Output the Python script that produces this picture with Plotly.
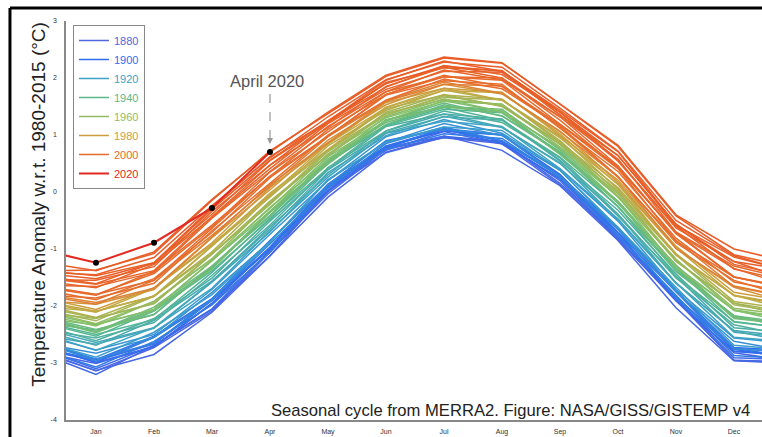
import plotly.graph_objects as go
from plotly.colors import sample_colorscale

# ---------------- data ----------------
month_labels = ["Jan", "Feb", "Mar", "Apr", "May", "Jun", "Jul", "Aug", "Sep", "Oct", "Nov", "Dec"]
month_ticks = [1, 2, 3, 4, 5, 6, 7, 8, 9, 10, 11, 12]
# 0 = previous December, 1..12 = Jan..Dec, 13 = following January
months = [0, 1, 2, 3, 4, 5, 6, 7, 8, 9, 10, 11, 12, 13]

y1880 = [-2.77, -3.14, -2.73, -2.09, -1.05, -0.03, 0.75, 0.95, 0.85, 0.12, -0.81, -1.90, -2.95, -2.98]
y1882 = [-2.80, -3.01, -2.72, -1.96, -1.06, 0.07, 0.73, 1.06, 0.84, 0.24, -0.82, -1.91, -2.82, -2.97]
y1885 = [-2.80, -3.13, -2.85, -2.11, -1.12, -0.09, 0.70, 0.98, 0.73, 0.11, -0.85, -2.03, -2.96, -3.01]
y1887 = [-2.81, -3.20, -2.69, -2.06, -1.12, 0.03, 0.69, 0.96, 0.88, 0.20, -0.84, -1.88, -2.95, -3.00]
y1890 = [-2.74, -3.10, -2.69, -2.05, -1.02, 0.00, 0.78, 0.98, 0.88, 0.15, -0.77, -1.87, -2.91, -2.94]
y1892 = [-2.75, -2.96, -2.67, -1.90, -1.00, 0.11, 0.77, 1.10, 0.89, 0.28, -0.77, -1.86, -2.76, -2.92]
y1895 = [-2.68, -2.99, -2.71, -1.95, -0.97, 0.03, 0.81, 1.10, 0.85, 0.23, -0.71, -1.90, -2.80, -2.87]
y1897 = [-2.68, -2.99, -2.55, -1.90, -0.97, 0.14, 0.80, 1.07, 1.00, 0.31, -0.71, -1.75, -2.79, -2.86]
y1900 = [-2.60, -2.94, -2.53, -1.87, -0.85, 0.13, 0.90, 1.11, 1.01, 0.28, -0.62, -1.73, -2.73, -2.78]
y1902 = [-2.73, -2.94, -2.65, -1.88, -0.98, 0.13, 0.79, 1.11, 0.90, 0.29, -0.75, -1.84, -2.74, -2.90]
y1905 = [-2.75, -3.07, -2.62, -1.98, -1.05, 0.09, 0.75, 1.02, 0.94, 0.26, -0.77, -1.81, -2.87, -2.93]
y1907 = [-2.63, -2.93, -2.66, -1.89, -0.91, 0.07, 0.85, 1.14, 0.90, 0.27, -0.66, -1.86, -2.74, -2.82]
y1910 = [-2.62, -2.96, -2.55, -1.89, -0.86, 0.12, 0.89, 1.10, 1.00, 0.27, -0.64, -1.74, -2.75, -2.80]
y1912 = [-2.64, -2.83, -2.55, -1.76, -0.87, 0.21, 0.87, 1.20, 0.99, 0.38, -0.65, -1.75, -2.62, -2.80]
y1915 = [-2.49, -2.77, -2.50, -1.71, -0.74, 0.20, 0.97, 1.27, 1.03, 0.40, -0.51, -1.71, -2.56, -2.66]
y1917 = [-2.61, -2.90, -2.46, -1.80, -0.88, 0.22, 0.87, 1.14, 1.08, 0.38, -0.62, -1.67, -2.69, -2.77]
y1920 = [-2.46, -2.78, -2.38, -1.69, -0.68, 0.26, 1.03, 1.24, 1.15, 0.41, -0.47, -1.59, -2.55, -2.63]
y1922 = [-2.50, -2.67, -2.39, -1.58, -0.70, 0.34, 0.99, 1.33, 1.13, 0.51, -0.49, -1.60, -2.44, -2.64]
y1925 = [-2.38, -2.64, -2.38, -1.57, -0.61, 0.30, 1.07, 1.37, 1.14, 0.50, -0.39, -1.60, -2.43, -2.54]
y1927 = [-2.42, -2.69, -2.25, -1.56, -0.65, 0.39, 1.04, 1.32, 1.26, 0.56, -0.42, -1.48, -2.46, -2.56]
y1930 = [-2.32, -2.61, -2.22, -1.51, -0.51, 0.39, 1.15, 1.37, 1.28, 0.54, -0.32, -1.44, -2.38, -2.47]
y1932 = [-2.41, -2.56, -2.29, -1.46, -0.58, 0.43, 1.07, 1.42, 1.22, 0.60, -0.39, -1.51, -2.33, -2.54]
y1935 = [-2.26, -2.50, -2.24, -1.41, -0.46, 0.42, 1.18, 1.48, 1.26, 0.61, -0.25, -1.48, -2.27, -2.40]
y1937 = [-2.28, -2.53, -2.09, -1.38, -0.48, 0.52, 1.16, 1.45, 1.39, 0.69, -0.26, -1.34, -2.28, -2.40]
y1940 = [-2.18, -2.45, -2.06, -1.33, -0.34, 0.52, 1.27, 1.50, 1.42, 0.67, -0.16, -1.30, -2.20, -2.31]
y1942 = [-2.29, -2.42, -2.15, -1.30, -0.43, 0.55, 1.18, 1.53, 1.34, 0.71, -0.26, -1.38, -2.17, -2.40]
y1945 = [-2.18, -2.41, -2.15, -1.31, -0.36, 0.49, 1.25, 1.56, 1.33, 0.69, -0.17, -1.40, -2.17, -2.31]
y1947 = [-2.22, -2.45, -2.02, -1.30, -0.41, 0.58, 1.22, 1.50, 1.45, 0.74, -0.20, -1.28, -2.20, -2.33]
y1950 = [-2.20, -2.47, -2.08, -1.35, -0.35, 0.51, 1.26, 1.49, 1.40, 0.66, -0.18, -1.32, -2.22, -2.33]
y1952 = [-2.21, -2.33, -2.06, -1.20, -0.34, 0.62, 1.25, 1.60, 1.41, 0.78, -0.17, -1.30, -2.07, -2.31]
y1955 = [-2.10, -2.32, -2.06, -1.21, -0.27, 0.56, 1.32, 1.63, 1.41, 0.76, -0.08, -1.32, -2.07, -2.22]
y1957 = [-2.13, -2.35, -1.92, -1.18, -0.29, 0.67, 1.30, 1.59, 1.54, 0.83, -0.09, -1.18, -2.08, -2.23]
y1960 = [-2.06, -2.31, -1.92, -1.17, -0.18, 0.64, 1.38, 1.62, 1.54, 0.79, -0.03, -1.18, -2.04, -2.17]
y1962 = [-2.11, -2.22, -1.95, -1.08, -0.22, 0.71, 1.34, 1.69, 1.51, 0.87, -0.07, -1.21, -1.95, -2.20]
y1965 = [-2.01, -2.21, -1.96, -1.09, -0.16, 0.65, 1.40, 1.71, 1.50, 0.84, 0.02, -1.22, -1.95, -2.12]
y1967 = [-2.05, -2.26, -1.83, -1.08, -0.20, 0.74, 1.37, 1.66, 1.62, 0.90, -0.01, -1.10, -1.98, -2.14]
y1970 = [-1.97, -2.20, -1.82, -1.05, -0.07, 0.73, 1.46, 1.70, 1.63, 0.87, 0.08, -1.08, -1.92, -2.07]
y1972 = [-2.01, -2.09, -1.83, -0.94, -0.09, 0.81, 1.43, 1.79, 1.61, 0.97, 0.05, -1.10, -1.81, -2.08]
y1975 = [-1.90, -2.09, -1.83, -0.95, -0.02, 0.75, 1.49, 1.82, 1.61, 0.95, 0.14, -1.11, -1.81, -1.99]
y1977 = [-1.92, -2.11, -1.69, -0.92, -0.05, 0.85, 1.48, 1.78, 1.74, 1.02, 0.13, -0.98, -1.82, -2.00]
y1980 = [-1.84, -2.06, -1.68, -0.89, 0.08, 0.84, 1.57, 1.82, 1.75, 0.99, 0.21, -0.95, -1.76, -1.93]
y1982 = [-1.90, -1.97, -1.71, -0.80, 0.04, 0.91, 1.53, 1.89, 1.72, 1.07, 0.17, -0.99, -1.67, -1.96]
y1985 = [-1.78, -1.94, -1.69, -0.79, 0.13, 0.87, 1.60, 1.93, 1.73, 1.06, 0.27, -0.99, -1.65, -1.85]
y1987 = [-1.80, -1.97, -1.55, -0.76, 0.10, 0.97, 1.59, 1.89, 1.86, 1.13, 0.26, -0.85, -1.66, -1.86]
y1990 = [-1.70, -1.89, -1.52, -0.71, 0.25, 0.97, 1.70, 1.95, 1.89, 1.12, 0.36, -0.81, -1.58, -1.77]
y1992 = [-1.80, -1.86, -1.60, -0.68, 0.15, 1.00, 1.61, 1.98, 1.81, 1.16, 0.27, -0.89, -1.55, -1.85]
y1995 = [-1.65, -1.80, -1.55, -0.63, 0.28, 0.98, 1.71, 2.05, 1.85, 1.18, 0.41, -0.86, -1.49, -1.71]
y1997 = [-1.66, -1.81, -1.39, -0.58, 0.27, 1.10, 1.71, 2.02, 2.00, 1.26, 0.42, -0.71, -1.49, -1.70]
y2000 = [-1.63, -1.80, -1.43, -0.61, 0.35, 1.05, 1.76, 2.02, 1.96, 1.19, 0.45, -0.73, -1.49, -1.68]
y2002 = [-1.63, -1.66, -1.41, -0.46, 0.36, 1.15, 1.76, 2.14, 1.97, 1.32, 0.46, -0.72, -1.34, -1.66]
y2005 = [-1.50, -1.62, -1.38, -0.43, 0.47, 1.13, 1.85, 2.19, 2.00, 1.32, 0.58, -0.70, -1.30, -1.54]
y2007 = [-1.55, -1.68, -1.27, -0.44, 0.41, 1.20, 1.80, 2.12, 2.10, 1.36, 0.54, -0.60, -1.35, -1.58]
y2010 = [-1.46, -1.61, -1.24, -0.39, 0.55, 1.21, 1.92, 2.18, 2.13, 1.35, 0.64, -0.56, -1.27, -1.49]
y2012 = [-1.54, -1.55, -1.31, -0.34, 0.47, 1.24, 1.84, 2.22, 2.06, 1.40, 0.56, -0.63, -1.22, -1.56]
y2015 = [-1.37, -1.47, -1.24, -0.27, 0.62, 1.24, 1.96, 2.30, 2.12, 1.43, 0.71, -0.58, -1.14, -1.40]
y2016 = [-1.38, -1.37, -1.08, -0.15, 0.72, 1.38, 2.03, 2.35, 2.26, 1.54, 0.80, -0.42, -1.10, -1.33]
y2017 = [-1.40, -1.45, -1.15, -0.24, 0.60, 1.32, 1.97, 2.28, 2.19, 1.47, 0.72, -0.50, -1.12, -1.40]
y2018 = [-1.42, -1.52, -1.25, -0.30, 0.56, 1.25, 1.90, 2.21, 2.12, 1.40, 0.64, -0.58, -1.22, -1.38]
y2019 = [-1.22, -1.38, -1.05, -0.13, 0.70, 1.40, 2.05, 2.37, 2.27, 1.55, 0.82, -0.40, -1.00, -1.24]
y2020 = [-1.00, -1.24, -0.89, -0.28, 0.70]

years = [1880, 1882, 1885, 1887, 1890, 1892, 1895, 1897, 1900, 1902, 1905, 1907, 1910, 1912,
         1915, 1917, 1920, 1922, 1925, 1927, 1930, 1932, 1935, 1937, 1940, 1942, 1945, 1947,
         1950, 1952, 1955, 1957, 1960, 1962, 1965, 1967, 1970, 1972, 1975, 1977, 1980, 1982,
         1985, 1987, 1990, 1992, 1995, 1997, 2000, 2002, 2005, 2007, 2010, 2012, 2015, 2016,
         2017, 2018, 2019, 2020]
series = [y1880, y1882, y1885, y1887, y1890, y1892, y1895, y1897, y1900, y1902, y1905, y1907,
          y1910, y1912, y1915, y1917, y1920, y1922, y1925, y1927, y1930, y1932, y1935, y1937,
          y1940, y1942, y1945, y1947, y1950, y1952, y1955, y1957, y1960, y1962, y1965, y1967,
          y1970, y1972, y1975, y1977, y1980, y1982, y1985, y1987, y1990, y1992, y1995, y1997,
          y2000, y2002, y2005, y2007, y2010, y2012, y2015, y2016, y2017, y2018, y2019, y2020]
legend_years = [1880, 1900, 1920, 1940, 1960, 1980, 2000, 2020]

y_tick_vals = [3, 2, 1, 0, -1, -2, -3, -4]
y_tick_text = ["3", "2", "1", "0", "-1", "-2", "-3", "-4"]

# ---------------- style ----------------
colorscale = [
    [0.000, "#4f66e0"],
    [0.140, "#2f6cf0"],
    [0.270, "#3a9fcc"],
    [0.410, "#55b78e"],
    [0.550, "#88c066"],
    [0.700, "#c8a640"],
    [0.780, "#e6702e"],
    [0.995, "#e85c27"],
    [1.000, "#e02a22"],
]
FONT = "Liberation Sans, Arial, Helvetica, sans-serif"

fig = go.Figure()
for yr, vals in zip(years, series):
    col = sample_colorscale(colorscale, [(yr - 1880) / 140])[0]
    is_last = yr == 2020
    fig.add_trace(go.Scatter(
        x=months[:len(vals)],
        y=vals,
        mode="lines",
        line=dict(color=col, width=2.0 if is_last else 1.5),
        name=f'<span style="color:{col}">{yr}</span>',
        showlegend=yr in legend_years,
        legendgroup=str(yr),
        hoverinfo="skip",
    ))

# black dots on the 2020 months (Jan-Apr)
fig.add_trace(go.Scatter(
    x=months[1:len(y2020)], y=y2020[1:], mode="markers",
    marker=dict(color="black", size=6), showlegend=False, hoverinfo="skip",
))

apr_val = y2020[4]

fig.update_layout(
    width=762,
    height=437,
    margin=dict(l=66, r=0, t=21, b=17),
    paper_bgcolor="white",
    plot_bgcolor="white",
    hovermode=False,
    font=dict(family=FONT, color="#333"),
    showlegend=True,
    legend=dict(
        x=0.01, y=0.99, xanchor="left", yanchor="top",
        bordercolor="#888", borderwidth=1, bgcolor="white",
        font=dict(size=11, family=FONT),
        tracegroupgap=0,
    ),
    xaxis=dict(
        range=[0.483, 12.483],
        tickvals=month_ticks, ticktext=month_labels,
        tickfont=dict(size=7, color="#333"),
        showline=True, linecolor="#888", linewidth=1.5,
        showgrid=False, zeroline=False, ticks="",
        ticklabelstandoff=4,
    ),
    yaxis=dict(
        range=[-4, 3],
        tickvals=y_tick_vals, ticktext=y_tick_text,
        tickfont=dict(size=7, color="#333"),
        showline=True, linecolor="#888", linewidth=1.5,
        showgrid=False, zeroline=False, ticks="",
        ticklabelstandoff=6,
    ),
    shapes=[
        # outer frame (screenshot border)
        dict(type="line", xref="paper", yref="paper", x0=-0.0805, x1=1.01, y0=1.0326, y1=1.0326,
             line=dict(color="black", width=3)),
        dict(type="line", xref="paper", yref="paper", x0=-0.0805, x1=-0.0805, y0=1.0326, y1=-0.06,
             line=dict(color="black", width=3)),
        # dashed pointer to April 2020
        dict(type="line", xref="x", yref="y", x0=4, x1=4, y0=apr_val + 1.02, y1=apr_val + 0.22,
             line=dict(color="#999", width=1.2, dash="dash")),
    ],
    annotations=[
        dict(text="Temperature Anomaly w.r.t. 1980-2015 (°C)", xref="paper", yref="paper",
             x=-0.040, y=0.54, textangle=-90, showarrow=False,
             font=dict(size=19, color="#222", family=FONT), xanchor="center", yanchor="middle"),
        dict(text="Seasonal cycle from MERRA2. Figure: NASA/GISS/GISTEMP v4", xref="paper", yref="paper",
             x=0.9856, y=0.025, xanchor="right", yanchor="middle", showarrow=False,
             font=dict(size=16.6, color="#222", family=FONT)),
        dict(text="April 2020", xref="x", yref="y", x=3.95, y=apr_val + 1.25, showarrow=False,
             font=dict(size=16.5, color="#555", family=FONT), xanchor="center", yanchor="middle"),
        dict(text="", xref="x", yref="y", x=4, y=apr_val + 0.14, ax=0, ay=-7,
             showarrow=True, arrowhead=2, arrowsize=1, arrowwidth=1.2, arrowcolor="#999"),
    ],
)

fig.write_html("out.html", config={"displayModeBar": False},
               post_script="document.body.style.margin='0';")
